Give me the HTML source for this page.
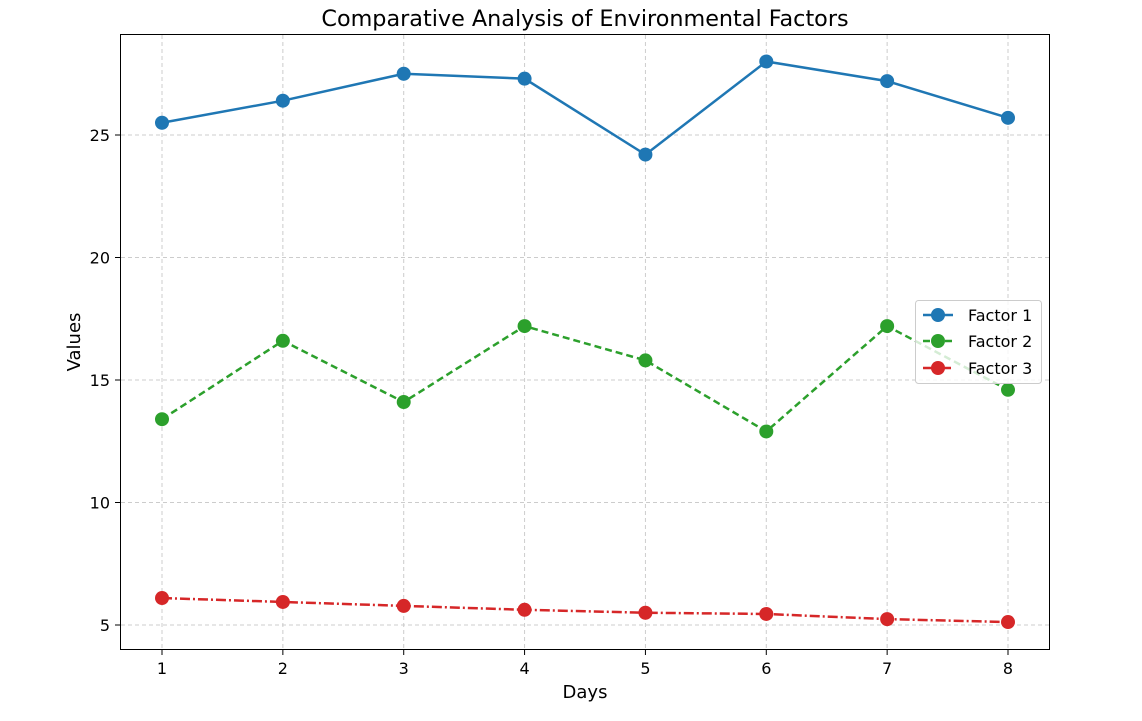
<!DOCTYPE html>
<html><head><meta charset="utf-8"><style>
body{margin:0;background:#fff;font-family:"DejaVu Sans","Liberation Sans",sans-serif;}
svg text{font-family:"DejaVu Sans","Liberation Sans",sans-serif;}
</style></head><body>
<svg id="chart" width="1142" height="717" xmlns="http://www.w3.org/2000/svg">
<text x="585" y="26" text-anchor="middle" font-size="22.3">Comparative Analysis of Environmental Factors</text>
<g id="grid"></g>
<g id="series"></g>
<rect x="120.5" y="34.5" width="929" height="615" fill="none" stroke="#000" stroke-width="1"/>
<g id="ticks"></g>
<text x="585" y="698" text-anchor="middle" font-size="18">Days</text>
<text x="80" y="342" text-anchor="middle" font-size="18" transform="rotate(-90 80 342)">Values</text>
<g>
<rect x="915.5" y="300.5" width="126" height="83" rx="3" fill="#fff" fill-opacity="0.8" stroke="#ccc"/>
<g><line x1="923" y1="315" x2="953" y2="315" stroke="#1f77b4" stroke-width="2.5"/><circle cx="938" cy="315" r="7" fill="#1f77b4"/><text x="968" y="321" font-size="16">Factor 1</text></g>
<g><line x1="923" y1="341" x2="953" y2="341" stroke="#2ca02c" stroke-width="2.5" stroke-dasharray="7,4"/><circle cx="938" cy="341" r="7" fill="#2ca02c"/><text x="968" y="347" font-size="16">Factor 2</text></g>
<g><line x1="923" y1="368" x2="953" y2="368" stroke="#d62728" stroke-width="2.5" stroke-dasharray="10,3,2,3"/><circle cx="938" cy="368" r="7" fill="#d62728"/><text x="968" y="374" font-size="16">Factor 3</text></g>
</g>
</svg>
<script>
const days=[1,2,3,4,5,6,7,8];
const factor1=[25.5,26.4,27.5,27.3,24.2,28.0,27.2,25.7];
const factor2=[13.4,16.6,14.1,17.2,15.8,12.9,17.2,14.6];
const factor3=[6.1,5.94,5.78,5.62,5.5,5.45,5.24,5.12];
const yTicks=[5,10,15,20,25];
const NS="http://www.w3.org/2000/svg";
const xs=d=>162+(d-1)*(1008-162)/7;
const ys=v=>625-(v-5)*24.5;
function mk(tag,attrs,parent){const e=document.createElementNS(NS,tag);for(const k in attrs)e.setAttribute(k,attrs[k]);document.getElementById(parent).appendChild(e);return e;}
days.forEach(d=>{
 const g=mk('line',{x1:xs(d),x2:xs(d),y1:35,y2:649,stroke:'#ccc','stroke-dasharray':'4,3'},'grid');
 
 
 const t=mk('line',{x1:xs(d),x2:xs(d),y1:650,y2:655,stroke:'#000'},'ticks');
 
 
 const l=mk('text',{x:xs(d),y:674,'text-anchor':'middle','font-size':16},'ticks');l.textContent=d;
 
 
});
yTicks.forEach(v=>{
 const g=mk('line',{x1:121,x2:1049,y1:ys(v),y2:ys(v),stroke:'#ccc','stroke-dasharray':'4,3'},'grid');
 
 
 const t=mk('line',{x1:115,x2:120,y1:ys(v),y2:ys(v),stroke:'#000'},'ticks');
 
 
 const l=mk('text',{x:110,y:ys(v)+6,'text-anchor':'end','font-size':16},'ticks');l.textContent=v;
 
 
});
[[factor1,'#1f77b4','none','factor-1'],[factor2,'#2ca02c','7,4','factor-2'],[factor3,'#d62728','10,3,2,3','factor-3']].forEach(([vals,c,dash,n])=>{
 const p=mk('polyline',{points:vals.map((v,i)=>xs(days[i])+','+ys(v)).join(' '),fill:'none',stroke:c,'stroke-width':2.5,'stroke-dasharray':dash},'series');
 
 
 vals.forEach((v,i)=>{
  const m=mk('circle',{cx:xs(days[i]),cy:ys(v),r:7,fill:c},'series');
  
  
 });
});
</script>
</body></html>
